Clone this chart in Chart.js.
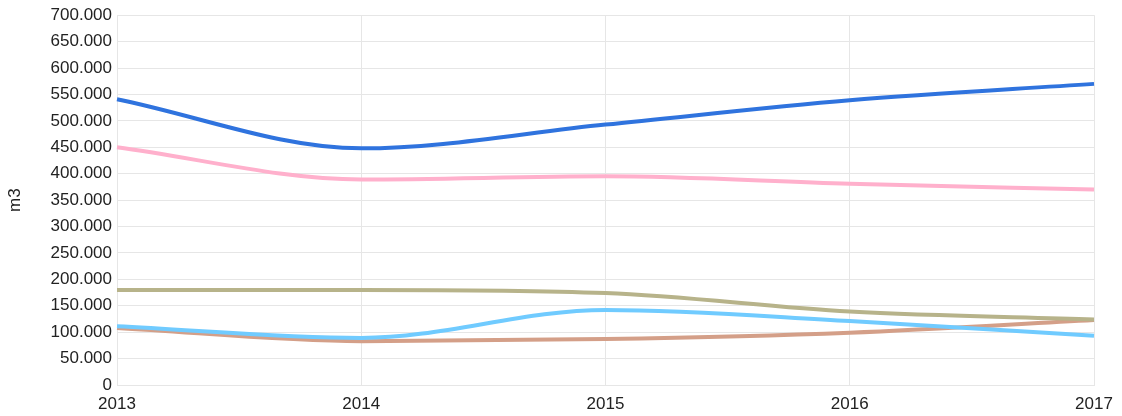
<!DOCTYPE html>
<html>
<head>
<meta charset="utf-8">
<script src="https://cdn.jsdelivr.net/npm/chart.js@4"></script>
<style>
  html, body { margin: 0; padding: 0; background: #fff; }
  #wrap { width: 1122px; height: 416px; }
</style>
</head>
<body>
<div id="wrap"><canvas id="myChart" width="1122" height="416"></canvas></div>
<script>
// years on the x axis
var years = ['2013', '2014', '2015', '2016', '2017'];

// m3 per series
var seriesBlue = [541000, 448000, 493000, 539000, 570000];
var seriesPink = [450000, 389000, 395000, 381000, 370000];
var seriesKhaki = [180000, 180000, 174000, 139000, 124000];
var seriesSky = [111000, 89000, 142000, 121000, 93000];
var seriesBrown = [108000, 83000, 87000, 99000, 123000];

var yMin = 0, yMax = 700000, yStep = 50000;

function fmt(v) {
  // 700000 -> "700.000"
  return String(v).replace(/\B(?=(\d{3})+(?!\d))/g, '.');
}

function line(data, color) {
  return {
    data: data,
    borderColor: color,
    backgroundColor: color,
    borderWidth: 4,
    pointRadius: 0,
    cubicInterpolationMode: 'monotone',
    fill: false
  };
}

var font = { family: 'Liberation Sans, Arial', size: 17 };

var ctx = document.getElementById('myChart').getContext('2d');
new Chart(ctx, {
  type: 'line',
  data: {
    labels: years,
    datasets: [
      line(seriesBlue, '#2f73de'),
      line(seriesPink, '#ffb0cc'),
      line(seriesKhaki, '#b7b38a'),
      line(seriesSky, '#70cbff'),
      line(seriesBrown, '#d49f88')
    ]
  },
  options: {
    responsive: false,
    animation: false,
    layout: { padding: { top: 13, right: 28, left: 0, bottom: 0 } },
    plugins: { legend: { display: false }, tooltip: { enabled: false } },
    scales: {
      x: {
        grid: { color: '#e6e6e6', lineWidth: 1, drawTicks: false },
        border: { color: '#e6e6e6' },
        ticks: {
          color: '#222',
          font: font,
          padding: 9,
          maxRotation: 0,
          autoSkip: false
        },
        afterFit: function(scale) { scale.height = 31; }
      },
      y: {
        min: yMin,
        max: yMax,
        grid: { color: '#e6e6e6', lineWidth: 1, drawTicks: false },
        border: { color: '#e6e6e6' },
        ticks: {
          stepSize: yStep,
          color: '#222',
          font: font,
          padding: 5,
          callback: function(v) { return fmt(v); }
        },
        title: {
          display: true,
          text: 'm3',
          color: '#222',
          font: font,
          padding: { top: 5, bottom: 20 }
        },
        afterFit: function(scale) { scale.width = 117; }
      }
    }
  }
});
</script>
</body>
</html>
